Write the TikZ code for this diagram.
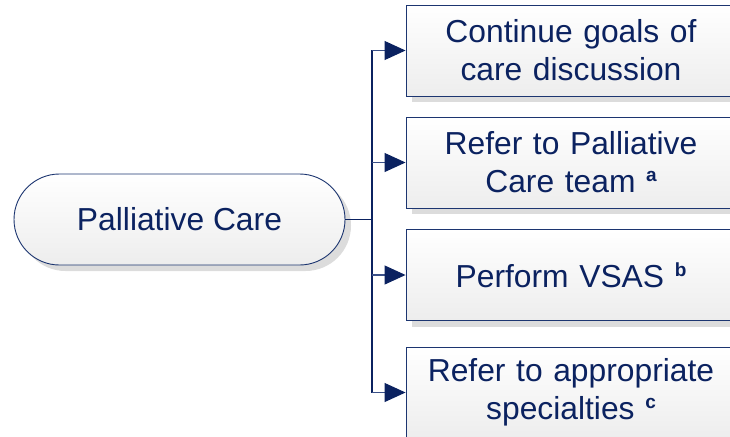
\documentclass[tikz,border=0pt]{standalone}
\usepackage{fontspec}
\setmainfont{Liberation Sans}
\usetikzlibrary{arrows.meta,shapes.misc,shadows}
\definecolor{navy}{HTML}{0B2260}
\definecolor{edge}{HTML}{1C3570}
\definecolor{shaft}{HTML}{3A5088}
\definecolor{shade}{HTML}{DCDCDC}
\definecolor{lowfill}{HTML}{EDEDED}
\newcommand{\supl}[1]{ \raisebox{11pt}{\fontsize{19}{19}\selectfont\bfseries #1}}
\tikzset{
  txt/.style={text=navy, font=\fontsize{31.8}{38}\selectfont, align=center},
  pill/.style={rounded rectangle, draw=edge, line width=0.9pt, top color=white, bottom color=lowfill,
    minimum width=331pt, minimum height=91pt, inner sep=0pt, txt,
    drop shadow={shadow xshift=6pt, shadow yshift=-6pt, fill=shade, opacity=1}},
  stepbox/.style={rectangle, draw=edge, line width=0.9pt, top color=white, bottom color=lowfill,
    minimum width=330pt, minimum height=91pt, inner sep=0pt, text width=322pt, txt,
    drop shadow={shadow xshift=6pt, shadow yshift=-6pt, fill=shade, opacity=1}},
  conn/.style={draw=navy, line width=1.3pt},
  arr/.style={draw=shaft, line width=1.1pt, -{Triangle[length=21pt,width=19pt,color=navy]}},
}
\begin{document}
\begin{tikzpicture}[x=1pt,y=-1pt]
\useasboundingbox (0,0) rectangle (730,436);
\clip (0,0) rectangle (730,436);
\node[pill] (pc) at (179.5,219.5) {Palliative Care};
\node[stepbox] (b1) at (571,50.5) {Continue goals of\\care discussion};
\node[stepbox] (b2) at (571,162.5) {Refer to Palliative\\Care team\supl{a}};
\node[stepbox] (b3) at (571,275) {Perform VSAS\supl{b}};
\node[stepbox] (b4) at (571,392.5) {Refer to appropriate\\specialties\supl{c}};
\coordinate (j) at (372,219.5);
\draw[conn] (pc.east) -- (j);
\draw[conn] (b1.west -| j) -- (b4.west -| j);
\foreach \b in {b1,b2,b3,b4}{
  \draw[arr] (\b.west -| j) -- (\b.west);
}
\end{tikzpicture}
\end{document}
